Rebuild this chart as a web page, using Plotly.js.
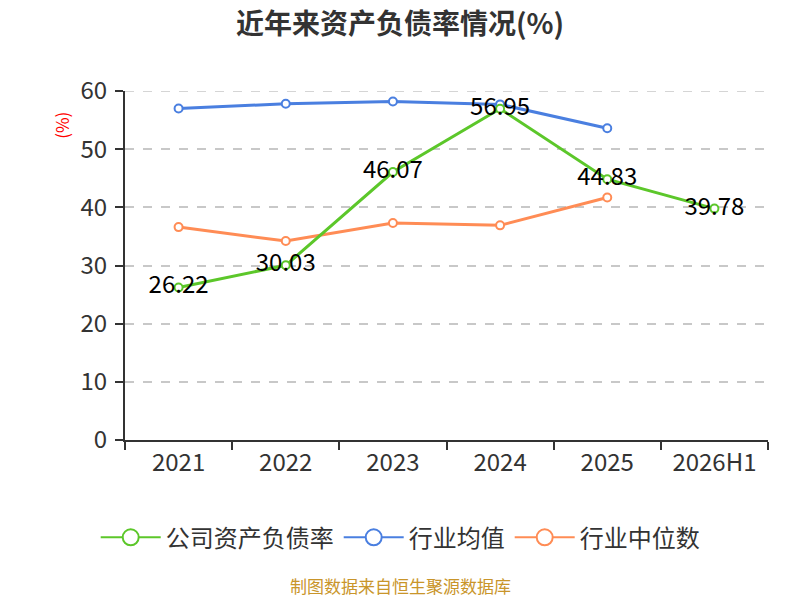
<!DOCTYPE html>
<html>
<head>
<meta charset="utf-8">
<script src="https://cdn.plot.ly/plotly-3.0.1.min.js"></script>
<style>body{margin:0;}#chart{width:800px;height:600px;}</style>
</head>
<body>
<div id="chart"></div>
<script>
const years = ['2021', '2022', '2023', '2024', '2025', '2026H1'];
const companyRatio = [26.22, 30.03, 46.07, 56.95, 44.83, 39.78];
const industryMean = [57.0, 57.8, 58.2, 57.7, 53.6];
const industryMedian = [36.6, 34.2, 37.3, 36.9, 41.7];

const FONT = '"Noto Sans CJK SC", "Noto Sans", sans-serif';

const series = [
	{name: '公司资产负债率', y: companyRatio, color: '#5cc72a', labels: true},
	{name: '行业均值', y: industryMean, color: '#4a7fe0', labels: false},
	{name: '行业中位数', y: industryMedian, color: '#ff8c55', labels: false},
];

// data traces (company last so its labels sit on top)
const traces = series.slice(1).concat(series.slice(0, 1)).map(s => ({
	x: years.slice(0, s.y.length),
	y: s.y,
	name: s.name,
	type: 'scatter',
	mode: s.labels ? 'lines+markers+text' : 'lines+markers',
	text: s.labels ? s.y.map(v => v.toFixed(2)) : undefined,
	textposition: 'middle center',
	textfont: {family: FONT, size: 24, color: '#000'},
	line: {color: s.color, width: 3},
	marker: {symbol: 'circle', size: 8, color: '#fff', line: {color: s.color, width: 2}},
	cliponaxis: false,
	showlegend: false,
}));

// legend-only entries with bigger symbols
series.forEach(s => traces.push({
	x: [years[0]], y: [null], name: s.name, type: 'scatter', mode: 'lines+markers',
	line: {color: s.color, width: 2},
	marker: {symbol: 'circle', size: 16, color: '#fff', line: {color: s.color, width: 2}},
}));

Plotly.newPlot('chart', traces, {
	width: 800,
	height: 600,
	margin: {l: 125, r: 32, t: 91, b: 160},
	paper_bgcolor: '#fff',
	plot_bgcolor: '#fff',
	font: {family: FONT, color: '#333'},
	title: {text: '<b>近年来资产负债率情况(%)</b>', x: 0.5, xanchor: 'center', y: 0.96, yanchor: 'middle',
		font: {family: FONT, size: 28, color: '#333'}},
	showlegend: true,
	legend: {orientation: 'h', x: 0.428, xanchor: 'center', y: -0.28, yanchor: 'middle',
		font: {family: FONT, size: 24, color: '#333'}, traceorder: 'normal', itemwidth: 60},
	xaxis: {
		type: 'category',
		categoryorder: 'array',
		categoryarray: years,
		range: [-0.5, 5.5],
		showline: true, linecolor: '#333', linewidth: 2,
		ticks: 'outside', tickson: 'boundaries', ticklen: 8, tickcolor: '#333', tickwidth: 2,
		tickfont: {family: FONT, size: 24, color: '#333'},
		showgrid: false, zeroline: false,
	},
	yaxis: {
		range: [0, 60],
		dtick: 10,
		showline: true, linecolor: '#333', linewidth: 2,
		ticks: 'outside', ticklen: 8, tickcolor: '#333', tickwidth: 2,
		ticklabelstandoff: 3,
		tickfont: {family: FONT, size: 24, color: '#333'},
		showgrid: true, gridcolor: '#c8c8c8', griddash: 'dash', gridwidth: 1.5,
		zeroline: false,
	},
	// top gridline (Plotly drops the one on the plot edge)
	shapes: [
		{type: 'line', xref: 'paper', yref: 'y', x0: 0, x1: 1, y0: 60, y1: 60, layer: 'below',
			line: {color: '#c8c8c8', width: 1.5, dash: 'dash'}},
	],
	annotations: [
		{text: '(%)', xref: 'paper', yref: 'paper', x: -0.098, y: 0.903, xanchor: 'center', yanchor: 'middle',
			textangle: -90, showarrow: false, font: {family: FONT, size: 17, color: '#f00'}},
		{text: '制图数据来自恒生聚源数据库', xref: 'paper', yref: 'paper', x: 0.428, y: -0.418,
			xanchor: 'center', yanchor: 'middle',
			showarrow: false, font: {family: FONT, size: 17, color: '#c9952a'}},
	],
}, {displayModeBar: false});
</script>
</body>
</html>
